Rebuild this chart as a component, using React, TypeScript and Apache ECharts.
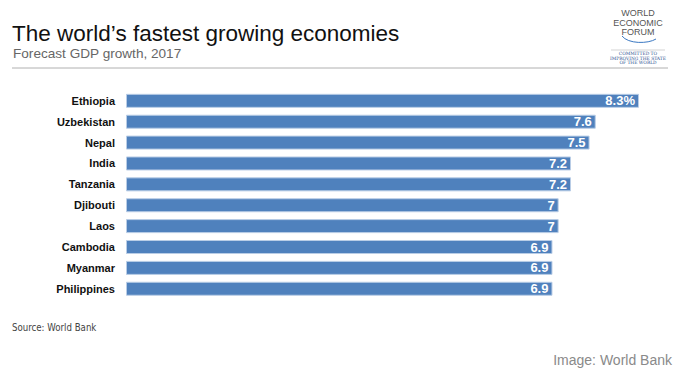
import React, { useEffect, useRef } from "react";
import * as echarts from "echarts";

const countries = ["Ethiopia", "Uzbekistan", "Nepal", "India", "Tanzania", "Djibouti", "Laos", "Cambodia", "Myanmar", "Philippines"];
const growth = [8.3, 7.6, 7.5, 7.2, 7.2, 7, 7, 6.9, 6.9, 6.9];
const valueLabels = ["8.3%", "7.6", "7.5", "7.2", "7.2", "7", "7", "6.9", "6.9", "6.9"];

const FONT = "Arial, 'Liberation Sans', Helvetica, sans-serif";
const LOGO_X = 638;

export default function App() {
  const ref = useRef<HTMLDivElement>(null);
  useEffect(() => {
    if (!ref.current) return;
    const chart = echarts.init(ref.current, undefined, { renderer: "svg" });
    chart.setOption({
      animation: false,
      backgroundColor: "#ffffff",
      grid: { left: 126, top: 90.4, width: 513, height: 208.8, containLabel: false },
      xAxis: {
        type: "value",
        min: 0,
        max: 8.3,
        show: false,
      },
      yAxis: {
        type: "category",
        data: countries,
        inverse: true,
        axisLine: { show: false },
        axisTick: { show: false },
        splitLine: { show: false },
        axisLabel: {
          color: "#111",
          fontFamily: FONT,
          fontSize: 11,
          fontWeight: "bold",
          margin: 11,
        },
      },
      series: [
        {
          type: "bar",
          data: growth,
          barWidth: 14,
          itemStyle: { color: "#4f81bd", borderColor: "#b9cde6", borderWidth: 1 },
          label: {
            show: true,
            position: "insideRight",
            distance: 4,
            color: "#ffffff",
            fontFamily: FONT,
            fontSize: 13,
            fontWeight: "bold",
            formatter: (p: any) => valueLabels[p.dataIndex],
          },
        },
      ],
      graphic: [
        {
          type: "text",
          left: 12,
          top: 22,
          style: { text: "The world\u2019s fastest growing economies", fontFamily: FONT, fontSize: 22.5, fill: "#111" },
        },
        {
          type: "text",
          left: 13,
          top: 46,
          style: { text: "Forecast GDP growth, 2017", fontFamily: FONT, fontSize: 13.6, fill: "#666" },
        },
        {
          type: "line",
          shape: { x1: 12, y1: 68, x2: 668, y2: 68 },
          style: { stroke: "#b0b0b0", lineWidth: 1 },
        },
        {
          type: "text",
          x: LOGO_X, y: 13.3,
          style: { text: "WORLD", fontFamily: FONT, fontSize: 9, fill: "#555", align: "center", verticalAlign: "middle" },
        },
        {
          type: "text",
          x: LOGO_X, y: 22.7,
          style: { text: "ECONOMIC", fontFamily: FONT, fontSize: 9, fill: "#555", align: "center", verticalAlign: "middle" },
        },
        {
          type: "text",
          x: LOGO_X, y: 31.7,
          style: { text: "FORUM", fontFamily: FONT, fontSize: 9, fill: "#555", align: "center", verticalAlign: "middle" },
        },
        {
          type: "bezierCurve",
          shape: { x1: 622, y1: 36, cpx1: 628, cpy1: 44, cpx2: 648, cpy2: 44, x2: 656, y2: 39 },
          style: { stroke: "#3a78c2", lineWidth: 1, fill: null },
        },
        {
          type: "line",
          shape: { x1: 611, y1: 50, x2: 665, y2: 50 },
          style: { stroke: "#c8c8c8", lineWidth: 0.8 },
        },
        {
          type: "text",
          x: LOGO_X, y: 53.5,
          style: { text: "COMMITTED TO", fontFamily: "'DejaVu Serif', serif", fontSize: 4.4, fill: "#2c4f8f", align: "center", verticalAlign: "middle" },
        },
        {
          type: "text",
          x: LOGO_X, y: 58,
          style: { text: "IMPROVING THE STATE", fontFamily: "'DejaVu Serif', serif", fontSize: 4.4, fill: "#2c4f8f", align: "center", verticalAlign: "middle" },
        },
        {
          type: "text",
          x: LOGO_X, y: 62.3,
          style: { text: "OF THE WORLD", fontFamily: "'DejaVu Serif', serif", fontSize: 4.4, fill: "#2c4f8f", align: "center", verticalAlign: "middle" },
        },
        {
          type: "text",
          x: 12, y: 327,
          style: { text: "Source: World Bank", fontFamily: "'Liberation Sans Narrow', 'DejaVu Sans Condensed', sans-serif", fontSize: 9.6, fill: "#444", verticalAlign: "middle" },
        },
        {
          type: "text",
          x: 672, y: 360,
          style: { text: "Image: World Bank", fontFamily: FONT, fontSize: 14, fill: "#8a8a8a", align: "right", verticalAlign: "middle" },
        },
      ],
    });
    return () => chart.dispose();
  }, []);
  return <div ref={ref} style={{ width: 682, height: 391, position: "absolute", left: 0, top: 0 }} />;
}
